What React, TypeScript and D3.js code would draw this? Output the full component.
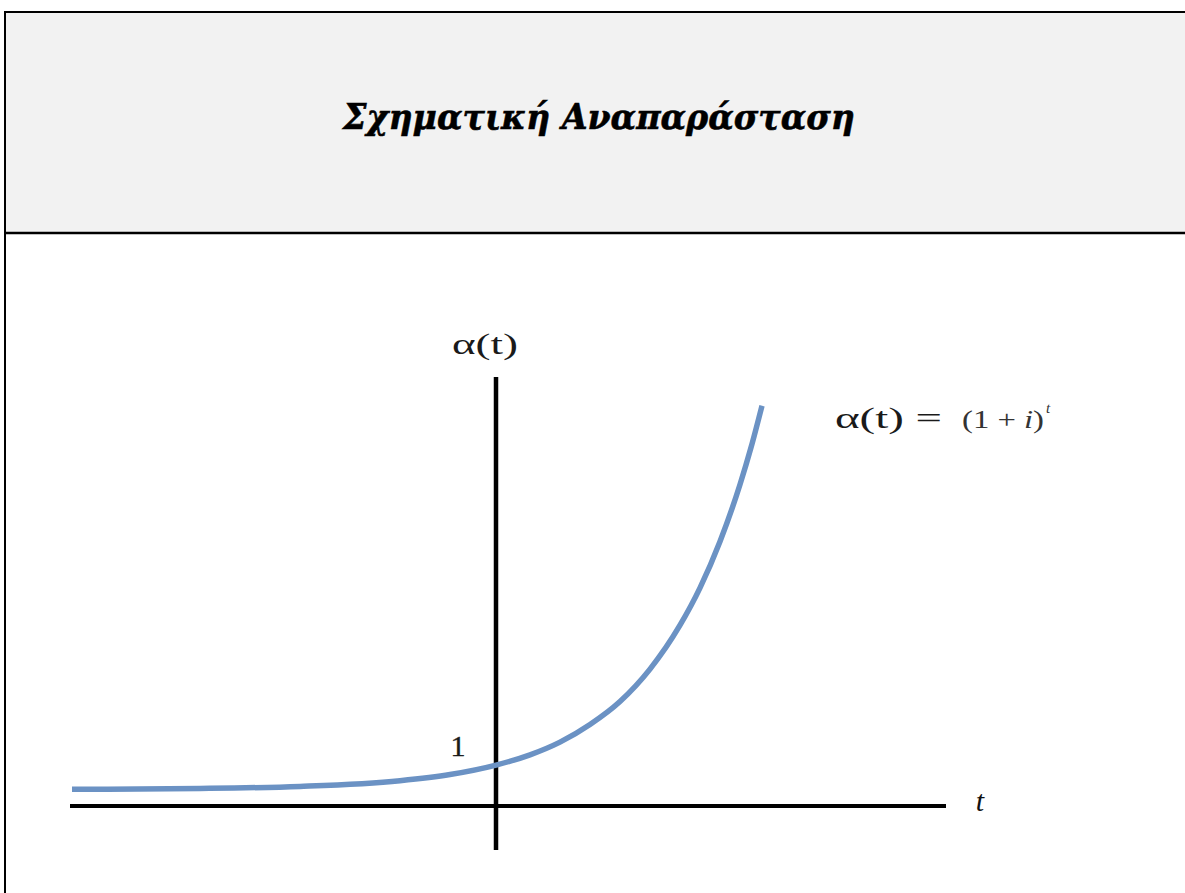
import React from "react";
import * as d3 from "d3";

// Sketch of the growth function α(t) = (1 + i)^t
const TITLE = "Σχηματική Αναπαράσταση";

// Axis extents (t horizontal, α vertical)
const T_RANGE: [number, number] = [-8.52, 9.0];
const A_RANGE: [number, number] = [-1.07, 10.46];

// Points along the drawn curve
const curveT = [-8.48, -5.92, -3.92, -1.92, -0.92, 0, 0.68, 1.28, 1.88, 2.48, 3.08, 3.68, 4.08, 4.48, 4.88, 5.1, 5.32];
const curveA = [0.41, 0.43, 0.48, 0.62, 0.77, 1.0, 1.25, 1.56, 1.99, 2.55, 3.34, 4.41, 5.32, 6.45, 7.84, 8.74, 9.76];

const W = 1185;
const H = 893;

export default function App() {
  const x = d3.scaleLinear().domain(T_RANGE).range([70, 946]);
  const y = d3.scaleLinear().domain(A_RANGE).range([850, 377]);

  const pts = curveT.map((t, i) => [t, curveA[i]] as [number, number]);
  const line = d3
    .line<[number, number]>()
    .x((d) => x(d[0]))
    .y((d) => y(d[1]))
    .curve(d3.curveMonotoneX);

  const serif = "'Liberation Serif', 'Times New Roman', serif";

  return (
    <svg
      width={W}
      height={H}
      viewBox={`0 0 ${W} ${H}`}
      style={{ position: "absolute", left: 0, top: 0, background: "#ffffff" }}
    >
      {/* header band */}
      <rect x={5} y={12} width={W - 5} height={221} fill="#f2f2f2" />
      <line x1={4} x2={W} y1={12} y2={12} stroke="#000" strokeWidth={2} />
      <line x1={4} x2={W} y1={233} y2={233} stroke="#000" strokeWidth={2.5} />
      <line x1={5} x2={5} y1={11} y2={H} stroke="#000" strokeWidth={2} />
      <text
        x={343}
        y={129}
        fontFamily="'DejaVu Serif', serif"
        fontWeight="bold"
        fontStyle="italic"
        fontSize={36}
        textLength={512}
        lengthAdjust="spacingAndGlyphs"
        fill="#000"
        stroke="#000"
        strokeWidth={0.6}
      >
        {TITLE}
      </text>

      {/* axes */}
      <line x1={x(T_RANGE[0])} x2={x(T_RANGE[1])} y1={y(0)} y2={y(0)} stroke="#000" strokeWidth={4} />
      <line x1={x(0)} x2={x(0)} y1={y(A_RANGE[0])} y2={y(A_RANGE[1])} stroke="#000" strokeWidth={4.5} />

      {/* curve */}
      <path d={line(pts) ?? ""} fill="none" stroke="#6b92c4" strokeWidth={5.5} strokeLinecap="butt" />

      {/* labels */}
      <text x={452} y={354} fontFamily={serif} fontSize={30} textLength={66} lengthAdjust="spacingAndGlyphs" fill="#1a1a1a">
        α(t)
      </text>
      <text x={458} y={756} fontFamily={serif} fontSize={30} textAnchor="middle" fill="#1a1a1a" stroke="#1a1a1a" strokeWidth={0.4}>
        1
      </text>
      <text x={980} y={811} fontFamily={serif} fontSize={30} fontStyle="italic" textAnchor="middle" fill="#111">
        t
      </text>

      {/* formula */}
      <text x={835} y={428} fontFamily={serif} fontSize={30} textLength={107} lengthAdjust="spacingAndGlyphs" fill="#1a1a1a">
        α(t) =
      </text>
      <text x={962} y={428} fontFamily={serif} fontSize={25} textLength={82} lengthAdjust="spacingAndGlyphs" fill="#333">
        (1 + <tspan fontStyle="italic">i</tspan>)
      </text>
      <text x={1046} y={413} fontFamily={serif} fontSize={15} fontStyle="italic" fill="#333">
        t
      </text>
    </svg>
  );
}
